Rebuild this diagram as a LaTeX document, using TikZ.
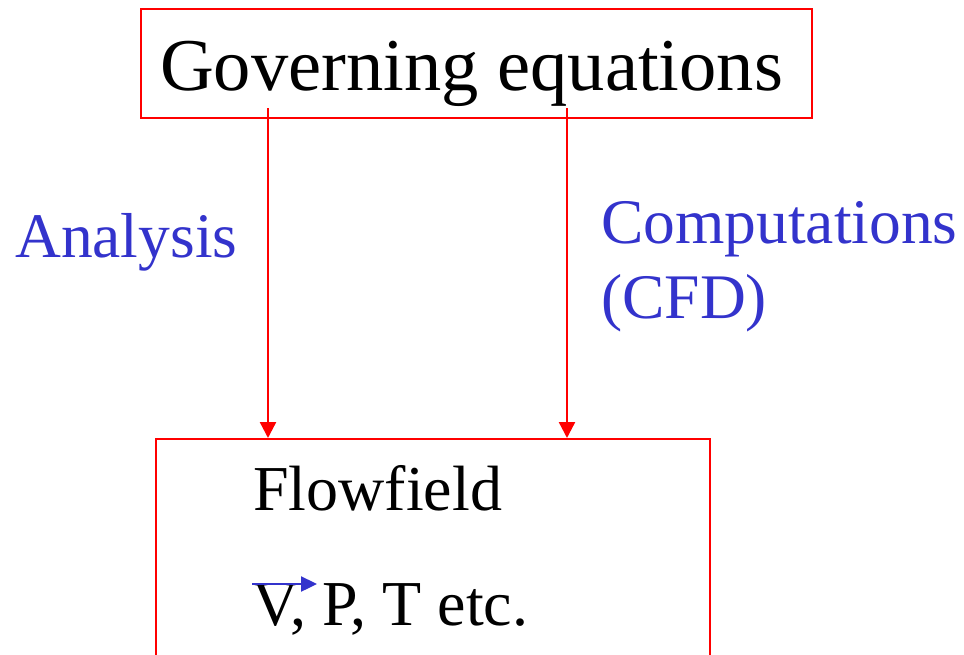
\documentclass[tikz,border=0pt]{standalone}
\usepackage{fontspec}
\setmainfont{Liberation Serif}
\usetikzlibrary{arrows.meta}
\definecolor{lblue}{RGB}{51,51,204}
\definecolor{bred}{RGB}{255,0,0}
\begin{document}
\begin{tikzpicture}[x=1pt,y=-1pt,
  boxstyle/.style={draw=bred,line width=2.4pt,inner sep=0pt,rectangle},
  flowarrow/.style={draw=bred,line width=2.4pt,-{Triangle[width=16pt,length=16pt]}},
  bluelbl/.style={text=lblue,font=\fontsize{63.5}{72}\selectfont,anchor=base west,inner sep=0pt},
  blacklbl/.style={text=black,font=\fontsize{64}{72}\selectfont,anchor=base west,inner sep=0pt}]
\useasboundingbox (0,0) rectangle (964,654);
\clip (0,0) rectangle (964,654);
% top box
\node[boxstyle,minimum width=671pt,minimum height=109pt] (gov) at (476.5,63.5) {};
\node[anchor=base west,inner sep=0pt,font=\fontsize{74.5}{84}\selectfont] (govtxt) at (160,90) {Governing equations};
% bottom box
\node[boxstyle,minimum width=554pt,minimum height=300pt,anchor=north west] (flow) at (155,438) {};
\node[blacklbl] (fftxt) at (253,510) {Flowfield};
\node[blacklbl] (vars) at (252,625) {V, P, T etc.};
\coordinate (vs) at (252,584);
\coordinate (ve) at (317,584);
\draw[draw=lblue,line width=2.4pt,-{Triangle[width=15pt,length=16pt]}] (vs) -- (ve);
% arrows
\coordinate (a1) at (268,108);
\coordinate (a2) at (567,108);
\draw[flowarrow] (a1) -- (a1 |- flow.north);
\draw[flowarrow] (a2) -- (a2 |- flow.north);
% labels
\node[bluelbl] (ana) at (15,257) {Analysis};
\node[bluelbl] (comp) at (601,243) {Computations};
\node[bluelbl] (cfd) at (601,318) {(CFD)};
\end{tikzpicture}
\end{document}
